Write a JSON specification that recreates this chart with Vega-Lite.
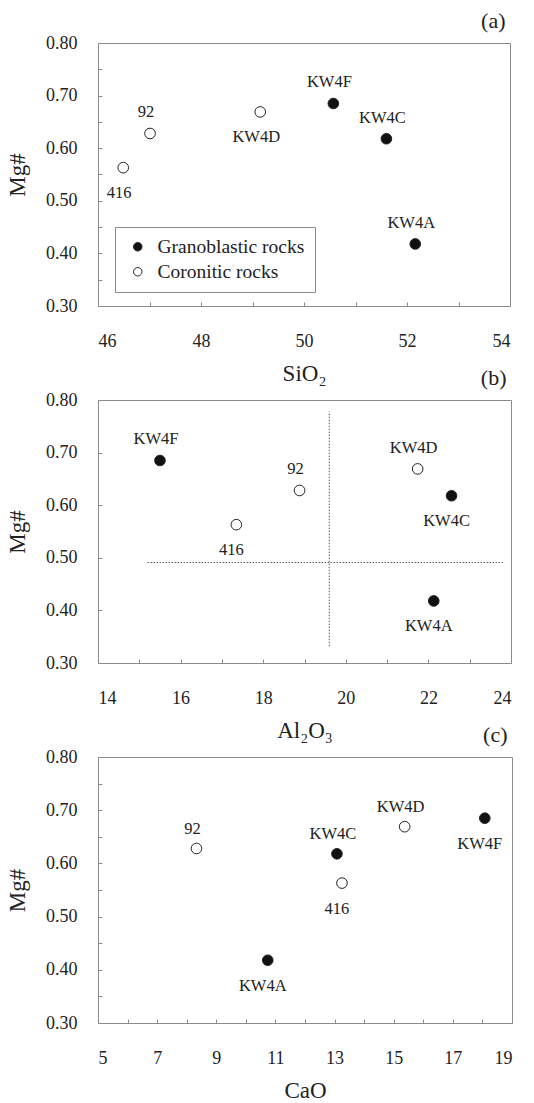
{
  "$schema": "https://vega.github.io/schema/vega-lite/v6.json",
  "background": "white",
  "padding": {"left": 6, "top": 9, "right": 22, "bottom": 0},
  "config": {
    "font": "Liberation Serif, Times New Roman, serif",
    "view": {"stroke": "#8a8a8a", "strokeWidth": 1},
    "axis": {
      "domain": false,
      "grid": false,
      "tickColor": "#8a8a8a",
      "tickSize": -4,
      "labelFont": "Liberation Serif, Times New Roman, serif",
      "labelFontSize": 18,
      "labelColor": "#222",
      "titleFont": "Liberation Serif, Times New Roman, serif",
      "titleFontSize": 23,
      "titleFontWeight": "normal",
      "titleColor": "#222"
    },
    "axisX": {"labelPadding": 30, "titlePadding": 12},
    "axisY": {"labelPadding": 25, "titlePadding": 16},
    "title": {"font": "Liberation Serif, Times New Roman, serif", "fontSize": 22, "fontWeight": "normal", "color": "#222", "anchor": "end", "baseline": "alphabetic", "offset": 1, "dx": -5}
  },
  "datasets": {
    "rocks": [
      {"sample": "416", "type": "Coronitic rocks", "SiO2": 46.49, "Al2O3": 17.35, "CaO": 13.25, "Mg": 0.563},
      {"sample": "92", "type": "Coronitic rocks", "SiO2": 47.01, "Al2O3": 18.88, "CaO": 8.33, "Mg": 0.628},
      {"sample": "KW4D", "type": "Coronitic rocks", "SiO2": 49.15, "Al2O3": 21.74, "CaO": 15.37, "Mg": 0.669},
      {"sample": "KW4F", "type": "Granoblastic rocks", "SiO2": 50.57, "Al2O3": 15.50, "CaO": 18.08, "Mg": 0.685},
      {"sample": "KW4C", "type": "Granoblastic rocks", "SiO2": 51.60, "Al2O3": 22.56, "CaO": 13.08, "Mg": 0.618},
      {"sample": "KW4A", "type": "Granoblastic rocks", "SiO2": 52.16, "Al2O3": 22.13, "CaO": 10.74, "Mg": 0.418}
    ],
    "guides": [
      {"xa": 19.6, "xb": 19.6, "ya": 0.332, "yb": 0.778},
      {"xa": 15.2, "xb": 23.8, "ya": 0.491, "yb": 0.491}
    ]
  },
  "bounds": "flush",
  "spacing": 94,
  "resolve": {"scale": {"fill": "independent", "x": "independent"}, "legend": {"fill": "independent"}},
  "vconcat": [
    {
      "width": 412,
      "height": 263,
      "title": {"text": "(a)"},
      "data": {"name": "rocks"},
      "encoding": {
        "x": {"field": "SiO2", "type": "quantitative", "title": "SiO₂",
          "scale": {"domain": [46, 54], "nice": false, "zero": false},
          "axis": {"values": [46, 47, 48, 49, 50, 51, 52, 53, 54], "labelExpr": "datum.value % 2 == 0 ? datum.label : ''"}},
        "y": {"field": "Mg", "type": "quantitative", "title": "Mg#",
          "scale": {"domain": [0.3, 0.8], "nice": false, "zero": false},
          "axis": {"values": [0.3, 0.35, 0.4, 0.45, 0.5, 0.55, 0.6, 0.65, 0.7, 0.75, 0.8], "labelExpr": "round(datum.value*100) % 10 == 0 ? format(datum.value, '.2f') : ''"}}
      },
      "layer": [
        {
          "mark": {"type": "point", "shape": "circle", "size": 113, "stroke": "#222", "strokeWidth": 1, "opacity": 1, "filled": false},
          "encoding": {
            "fill": {"field": "type", "type": "nominal",
              "scale": {"domain": ["Granoblastic rocks", "Coronitic rocks"], "range": ["#111", "white"]},
              "legend": {"title": null, "orient": "none", "legendX": 17, "legendY": 184, "direction": "vertical",
                "strokeColor": "#8a8a8a", "padding": 10, "fillColor": "white",
                "labelFont": "Liberation Serif, Times New Roman, serif", "labelFontSize": 19.5, "labelColor": "#222", "labelOffset": 10,
                "symbolType": "circle", "symbolSize": 72, "symbolStrokeColor": "#222", "symbolStrokeWidth": 1, "symbolOffset": 3,
                "rowPadding": 4}}
          }
        },
        {
          "transform": [{"filter": "indexof(['92','KW4F','KW4C','KW4A'], datum.sample) >= 0"}],
          "mark": {"type": "text", "font": "Liberation Serif, Times New Roman, serif", "fontSize": 16.5, "color": "#222", "dy": -21, "dx": -4, "baseline": "middle"},
          "encoding": {"text": {"field": "sample"}}
        },
        {
          "transform": [{"filter": "indexof(['416','KW4D'], datum.sample) >= 0"}],
          "mark": {"type": "text", "font": "Liberation Serif, Times New Roman, serif", "fontSize": 16.5, "color": "#222", "dy": 25, "dx": -4, "baseline": "middle"},
          "encoding": {"text": {"field": "sample"}}
        }
      ]
    },
    {
      "width": 413,
      "height": 263,
      "title": {"text": "(b)"},
      "layer": [
        {
          "data": {"name": "guides"},
          "mark": {"type": "rule", "stroke": "#555", "strokeWidth": 1, "strokeDash": [1.5, 1.5]},
          "encoding": {
            "x": {"field": "xa", "type": "quantitative"},
            "x2": {"field": "xb"},
            "y": {"field": "ya", "type": "quantitative"},
            "y2": {"field": "yb"}
          }
        },
        {
          "data": {"name": "rocks"},
          "encoding": {
            "x": {"field": "Al2O3", "type": "quantitative", "title": "Al₂O₃",
              "scale": {"domain": [14, 24], "nice": false, "zero": false},
              "axis": {"values": [14, 15, 16, 17, 18, 19, 20, 21, 22, 23, 24], "labelExpr": "datum.value % 2 == 0 ? datum.label : ''"}},
            "y": {"field": "Mg", "type": "quantitative", "title": "Mg#",
              "scale": {"domain": [0.3, 0.8], "nice": false, "zero": false},
              "axis": {"values": [0.3, 0.35, 0.4, 0.45, 0.5, 0.55, 0.6, 0.65, 0.7, 0.75, 0.8], "labelExpr": "round(datum.value*100) % 10 == 0 ? format(datum.value, '.2f') : ''"}}
          },
          "layer": [
            {
              "mark": {"type": "point", "shape": "circle", "size": 113, "stroke": "#222", "strokeWidth": 1, "opacity": 1, "filled": false},
              "encoding": {
                "fill": {"field": "type", "type": "nominal",
                  "scale": {"domain": ["Granoblastic rocks", "Coronitic rocks"], "range": ["#111", "white"]},
                  "legend": null}
              }
            },
            {
              "transform": [{"filter": "indexof(['92','KW4F','KW4D'], datum.sample) >= 0"}],
              "mark": {"type": "text", "font": "Liberation Serif, Times New Roman, serif", "fontSize": 16.5, "color": "#222", "dy": -21, "dx": -4, "baseline": "middle"},
              "encoding": {"text": {"field": "sample"}}
            },
            {
              "transform": [{"filter": "indexof(['416','KW4C','KW4A'], datum.sample) >= 0"}],
              "mark": {"type": "text", "font": "Liberation Serif, Times New Roman, serif", "fontSize": 16.5, "color": "#222", "dy": 25, "dx": -5, "baseline": "middle"},
              "encoding": {"text": {"field": "sample"}}
            }
          ]
        }
      ]
    },
    {
      "width": 414,
      "height": 266,
      "title": {"text": "(c)"},
      "data": {"name": "rocks"},
      "encoding": {
        "x": {"field": "CaO", "type": "quantitative", "title": "CaO",
          "scale": {"domain": [5, 19], "nice": false, "zero": false},
          "axis": {"values": [5, 6, 7, 8, 9, 10, 11, 12, 13, 14, 15, 16, 17, 18, 19], "labelExpr": "datum.value % 2 == 1 ? datum.label : ''"}},
        "y": {"field": "Mg", "type": "quantitative", "title": "Mg#",
          "scale": {"domain": [0.3, 0.8], "nice": false, "zero": false},
          "axis": {"values": [0.3, 0.35, 0.4, 0.45, 0.5, 0.55, 0.6, 0.65, 0.7, 0.75, 0.8], "labelExpr": "round(datum.value*100) % 10 == 0 ? format(datum.value, '.2f') : ''"}}
      },
      "layer": [
        {
          "mark": {"type": "point", "shape": "circle", "size": 113, "stroke": "#222", "strokeWidth": 1, "opacity": 1, "filled": false},
          "encoding": {
            "fill": {"field": "type", "type": "nominal",
              "scale": {"domain": ["Granoblastic rocks", "Coronitic rocks"], "range": ["#111", "white"]},
              "legend": null}
          }
        },
        {
          "transform": [{"filter": "indexof(['92','KW4C','KW4D'], datum.sample) >= 0"}],
          "mark": {"type": "text", "font": "Liberation Serif, Times New Roman, serif", "fontSize": 16.5, "color": "#222", "dy": -20, "dx": -4, "baseline": "middle"},
          "encoding": {"text": {"field": "sample"}}
        },
        {
          "transform": [{"filter": "indexof(['416','KW4A','KW4F'], datum.sample) >= 0"}],
          "mark": {"type": "text", "font": "Liberation Serif, Times New Roman, serif", "fontSize": 16.5, "color": "#222", "dy": 26, "dx": -5, "baseline": "middle"},
          "encoding": {"text": {"field": "sample"}}
        }
      ]
    }
  ]
}
